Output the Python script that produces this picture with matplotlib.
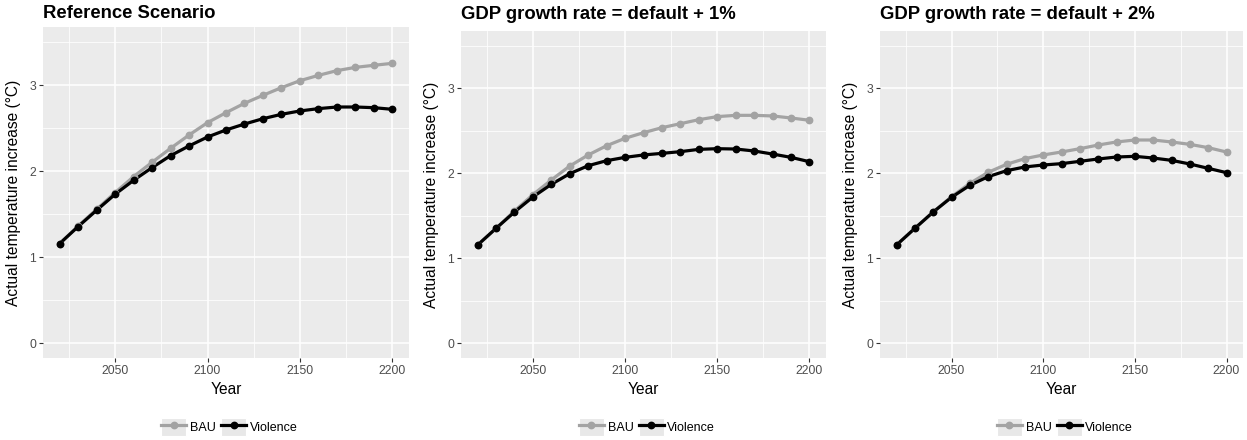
import matplotlib
matplotlib.use("Agg")
import matplotlib.pyplot as plt
from matplotlib.lines import Line2D
from matplotlib.patches import Rectangle
from matplotlib.legend_handler import HandlerLine2D
from matplotlib.ticker import MultipleLocator

plt.rcParams['font.family'] = ['Liberation Sans', 'DejaVu Sans']

years = list(range(2020, 2201, 10))

panel_titles = [
    "Reference Scenario",
    "GDP growth rate = default + 1%",
    "GDP growth rate = default + 2%",
]

bau_ref = [1.159, 1.364, 1.558, 1.752, 1.938, 2.105, 2.267, 2.422, 2.566, 2.682,
           2.791, 2.884, 2.973, 3.054, 3.116, 3.171, 3.209, 3.233, 3.256]
violence_ref = [1.159, 1.357, 1.547, 1.733, 1.895, 2.043, 2.182, 2.295, 2.399, 2.481,
                2.550, 2.612, 2.663, 2.702, 2.729, 2.748, 2.748, 2.740, 2.721]

bau_gdp1 = [1.157, 1.353, 1.557, 1.749, 1.922, 2.086, 2.216, 2.325, 2.412, 2.478,
            2.537, 2.584, 2.631, 2.667, 2.682, 2.682, 2.675, 2.651, 2.624]
violence_gdp1 = [1.157, 1.353, 1.545, 1.722, 1.871, 1.996, 2.090, 2.149, 2.188, 2.216,
                 2.235, 2.255, 2.282, 2.290, 2.286, 2.263, 2.227, 2.188, 2.137]

bau_gdp2 = [1.157, 1.353, 1.545, 1.725, 1.882, 2.012, 2.106, 2.173, 2.216, 2.251,
            2.290, 2.333, 2.369, 2.392, 2.392, 2.369, 2.341, 2.302, 2.251]
violence_gdp2 = [1.157, 1.353, 1.545, 1.718, 1.859, 1.961, 2.031, 2.075, 2.098, 2.114,
                 2.141, 2.169, 2.192, 2.200, 2.180, 2.153, 2.110, 2.059, 2.008]

series_names = ["BAU", "Violence"]
series_colors = ["#A3A3A3", "#000000"]
panel_data = [
    (bau_ref, violence_ref),
    (bau_gdp1, violence_gdp1),
    (bau_gdp2, violence_gdp2),
]

W, H = 1247, 440
fig = plt.figure(figsize=(W / 100, H / 100), dpi=100)

# panel boxes in pixels: left, right, top, bottom
boxes = [(43, 409, 27.3, 358.3), (461, 826, 30.9, 358.3), (880, 1243, 30.9, 358.3)]
title_pads = [7.0, 8.3, 8.3]


class KeyHandler(HandlerLine2D):
    """Legend key drawn on a light grey tile, as in ggplot."""
    def create_artists(self, legend, orig_handle, xdescent, ydescent,
                       width, height, fontsize, trans):
        bg = Rectangle((-xdescent, -ydescent), width, height,
                       facecolor="#E8E8E8", edgecolor="white", lw=0.8,
                       transform=trans)
        arts = super().create_artists(legend, orig_handle, xdescent, ydescent,
                                      width, height, fontsize, trans)
        return [bg] + arts


for (l, r, t, b), title, pad, data in zip(boxes, panel_titles, title_pads, panel_data):
    ax = fig.add_axes([l / W, 1 - b / H, (r - l) / W, (b - t) / H])
    ax.set_facecolor("#EBEBEB")
    for s in ax.spines.values():
        s.set_visible(False)

    handles = []
    for values, name, col in zip(data, series_names, series_colors):
        ax.plot(years, values, color=col, lw=2.3, solid_capstyle="round", zorder=3)
        ax.plot(years, values, "o", color=col, ms=4.6, mec=col, zorder=4)
        handles.append(Line2D([], [], color=col, lw=2.3, marker="o", ms=4.6,
                              label=name))

    ax.set_xlim(2011, 2209)
    ax.set_ylim(-0.175, 3.675)
    ax.set_xticks([2050, 2100, 2150, 2200])
    ax.xaxis.set_minor_locator(MultipleLocator(25))
    ax.set_yticks([0, 1, 2, 3])
    ax.yaxis.set_minor_locator(MultipleLocator(0.5))
    ax.grid(which="major", color="white", lw=1.1, zorder=0)
    ax.grid(which="minor", color="white", lw=0.55, zorder=0)
    ax.set_axisbelow(True)
    ax.tick_params(which="major", length=3.0, width=0.8, color="#333333",
                   labelsize=8.8, labelcolor="#4D4D4D", pad=1.8)
    ax.tick_params(which="minor", length=0)

    ax.set_title(title, loc="left", fontsize=13.3, fontweight="bold", pad=pad)
    ax.set_xlabel("Year", fontsize=11.2, labelpad=3.5)
    ax.set_ylabel("Actual temperature increase (\u00b0C)", fontsize=11.2)
    ax.yaxis.set_label_coords(-22.0 / (r - l), 0.5)

    ax.legend(handles=handles, loc="center",
              bbox_to_anchor=(0.5 + 3.5 / (r - l), -(427 - b) / (b - t)),
              ncol=2, frameon=False, fontsize=9, handlelength=2.0,
              handleheight=1.8, handletextpad=0.3, columnspacing=0.4,
              borderaxespad=0, borderpad=0,
              handler_map={Line2D: KeyHandler()})

fig.savefig("out.png", dpi=100)
